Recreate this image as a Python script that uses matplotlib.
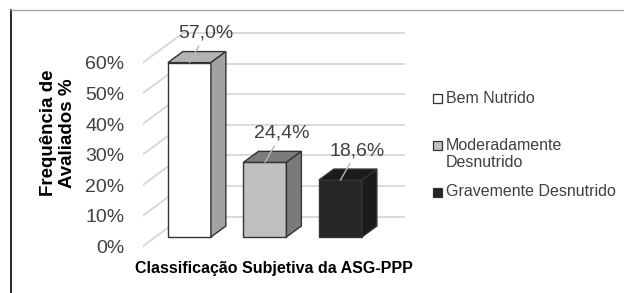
import numpy as np
import matplotlib.pyplot as plt
from matplotlib.patches import Polygon
from matplotlib.lines import Line2D
from matplotlib.ticker import PercentFormatter

# data
categorias = ['Bem Nutrido', 'Moderadamente\nDesnutrido', 'Gravemente Desnutrido']
valores = [57.0, 24.4, 18.6]
rotulos = ['57,0%', '24,4%', '18,6%']
yticks = [0, 10, 20, 30, 40, 50, 60]

# colours: front, top, side
cor_frente = ['#ffffff', '#c0c0c0', '#262626']
cor_topo = ['#b4b4b4', '#7c7c7c', '#1b1b1b']
cor_lado = ['#a2a2a2', '#7a7a7a', '#1b1b1b']

plt.rcParams['font.family'] = ['Liberation Sans', 'DejaVu Sans']

W, H = 624, 293
fig = plt.figure(figsize=(W / 100, H / 100), dpi=100)

# axes in "front plane" coords, px geometry
px_cat = 75.5      # px per category
px_pct = 3.06      # px per percent
x_ratio = 1.36     # horizontal shift per px of depth
left, right, bot, top = 142.5, 420.0, 260.0, 20.0
x0, y0 = 176.5, 246.5
ax = fig.add_axes([left / W, (H - bot) / H, (right - left) / W, (bot - top) / H])
ax.set_xlim((left - x0) / px_cat, (right - x0) / px_cat)
ax.set_ylim((y0 - bot) / px_pct, (y0 - top) / px_pct)


def prof(d):
    # depth (px) -> data offset
    return x_ratio * d / px_cat, d / px_pct


# walls: back lines + diagonal lines on the side wall
wall_dx, wall_dy = prof(30)
x_left = ax.get_xlim()[0]
x_back_end = (404 - x0) / px_cat
for v in yticks:
    ax.plot([x_left, x_left + wall_dx], [v, v + wall_dy], color='#d9d9d9', lw=1.4, zorder=1)
    ax.plot([x_left + wall_dx, x_back_end], [v + wall_dy, v + wall_dy], color='#d9d9d9',
            lw=1.4, zorder=1)

# bars
largura = 43 / px_cat
fdx, fdy = prof(9.5)
bdx, bdy = prof(11)
xs = np.arange(len(valores))
barras = ax.bar(xs + fdx, valores, largura, bottom=fdy, color=cor_frente,
                edgecolor='#333333', linewidth=1.0, zorder=3)
for i, b in enumerate(barras):
    xl = b.get_x()
    xr = xl + b.get_width()
    yb = b.get_y()
    yt = yb + b.get_height()
    topo = Polygon([[xl, yt], [xr, yt], [xr + bdx, yt + bdy], [xl + bdx, yt + bdy]],
                   closed=True, facecolor=cor_topo[i], edgecolor='#333333', lw=1.0, zorder=3)
    lado = Polygon([[xr, yb], [xr + bdx, yb + bdy], [xr + bdx, yt + bdy], [xr, yt]],
                   closed=True, facecolor=cor_lado[i], edgecolor='#333333', lw=1.0, zorder=3)
    ax.add_patch(topo)
    ax.add_patch(lado)
    ax.annotate(rotulos[i], xy=(xl + largura / 2, yt), xytext=(12, 21),
                textcoords='offset points', ha='center', va='center',
                fontsize=14, color='#404040', zorder=5,
                arrowprops=dict(arrowstyle='-', color='#b8b8b8', lw=1.0,
                                shrinkA=1, shrinkB=0))

ax.set_yticks(yticks)
ax.yaxis.set_major_formatter(PercentFormatter(decimals=0))
ax.tick_params(axis='y', length=0, pad=13, labelsize=14, labelcolor='#404040')
ax.set_xticks([])
for s in ax.spines.values():
    s.set_visible(False)
ax.patch.set_alpha(0)

# axis titles
fig.text(58 / W, 1 - 133 / H, 'Frequência de\nAvaliados %', rotation=90, ha='center',
         va='center', fontsize=13.5, fontweight='bold', color='#000000', linespacing=1.15)
fig.text(274 / W, 1 - 268 / H, 'Classificação Subjetiva da ASG-PPP', ha='center',
         va='center', fontsize=11.5, fontweight='bold', color='#000000')

# legend
leg_y = [99, 145, 192]
for i, nome in enumerate(categorias):
    yy = 1 - leg_y[i] / H
    fig.patches.append(plt.Rectangle((433 / W, yy - 4.5 / H), 9 / W, 9 / H,
                                     transform=fig.transFigure, facecolor=cor_frente[i],
                                     edgecolor='#333333', lw=0.9))
    fig.text(446 / W, yy + (7 / H if '\n' in nome else 0), nome, ha='left',
             va='top' if '\n' in nome else 'center', fontsize=11.5, color='#404040',
             linespacing=1.15)

# chart-area frame (only left and top visible)
fig.add_artist(Line2D([11 / W, 11 / W], [0, 1 - 10 / H], color='#000000', lw=1.2))
fig.add_artist(Line2D([11 / W, 1], [1 - 10 / H, 1 - 10 / H], color='#a6a6a6', lw=1.0))

fig.savefig('out.png', dpi=100)
